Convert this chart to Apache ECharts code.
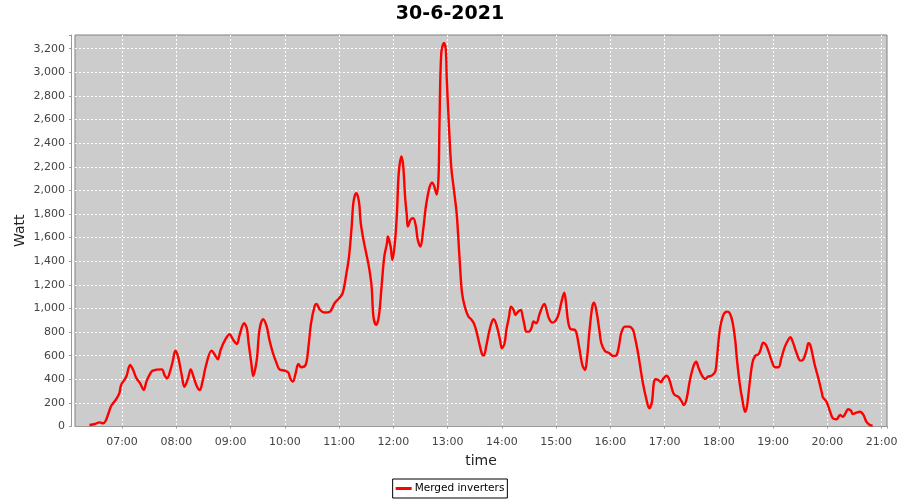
<!DOCTYPE html>
<html>
<head>
<meta charset="utf-8">
<script src="https://cdn.jsdelivr.net/npm/echarts@6/dist/echarts.min.js"></script>
<style>html,body{margin:0;padding:0;background:#fff}#c{width:900px;height:500px}</style>
</head>
<body>
<div id="c"></div>
<script>
// Sample times (HH:MM) and merged inverter power (W)
const times = ["06:24","06:30","06:35","06:39","06:42","06:45","06:48","06:53","06:57","06:59",
"07:03","07:05","07:09","07:12","07:16","07:20","07:24","07:27","07:31","07:34",
"07:44","07:47","07:50","07:53","07:56","07:59","08:02","08:06","08:09","08:13",
"08:16","08:19","08:23","08:26","08:29","08:33","08:39","08:44","08:46","08:49",
"08:54","08:59","09:03","09:07","09:10","09:15","09:18","09:20","09:23","09:25",
"09:29","09:32","09:36","09:40","09:43","09:47","09:51","09:54","10:00","10:04",
"10:06","10:09","10:12","10:15","10:18","10:23","10:26","10:29","10:33","10:35",
"10:39","10:44","10:50","10:55","11:00","11:04","11:08","11:11","11:14","11:16",
"11:19","11:22","11:24","11:27","11:30","11:33","11:36","11:38","11:41","11:44",
"11:47","11:50","11:53","11:54","11:57","11:59","12:02","12:04","12:06","12:09",
"12:11","12:13","12:15","12:16","12:19","12:22","12:25","12:27","12:30","12:33",
"12:36","12:40","12:43","12:45","12:48","12:50","12:51","12:53","12:56","12:58",
"12:59","13:01","13:04","13:07","13:10","13:12","13:14","13:16","13:19","13:23",
"13:26","13:29","13:32","13:35","13:38","13:40","13:43","13:46","13:49","13:51",
"13:54","13:58","14:00","14:03","14:05","14:08","14:10","14:13","14:15","14:18",
"14:21","14:23","14:25","14:27","14:30","14:33","14:35","14:38","14:42","14:47",
"14:49","14:52","14:56","15:00","15:03","15:06","15:09","15:11","15:13","15:16",
"15:21","15:23","15:26","15:29","15:32","15:34","15:37","15:40","15:42","15:45",
"15:48","15:50","15:54","15:59","16:03","16:07","16:10","16:12","16:16","16:21",
"16:25","16:27","16:30","16:33","16:36","16:40","16:43","16:46","16:48","16:50",
"16:53","16:56","16:58","17:02","17:05","17:09","17:11","17:15","17:19","17:21",
"17:24","17:28","17:32","17:35","17:37","17:41","17:45","17:48","17:52","17:56",
"17:58","18:01","18:05","18:09","18:12","18:15","18:18","18:20","18:23","18:26",
"18:29","18:31","18:34","18:37","18:40","18:44","18:46","18:49","18:52","18:55",
"18:58","19:02","19:06","19:09","19:13","19:17","19:19","19:22","19:26","19:30",
"19:33","19:37","19:39","19:41","19:44","19:46","19:50","19:54","19:55","19:59",
"20:03","20:06","20:10","20:14","20:17","20:19","20:23","20:26","20:28","20:32",
"20:36","20:40","20:43","20:47","20:50"];
const watts = [13,21,35,27,49,112,174,225,281,352,
400,428,521,484,408,366,309,380,445,473,
484,436,408,465,549,643,592,436,337,408,
484,422,337,309,380,521,643,590,569,648,
733,781,733,699,775,874,832,705,535,428,
564,818,908,846,733,620,535,484,473,456,
408,380,451,530,502,521,663,874,1021,1038,
987,965,973,1044,1086,1130,1290,1439,1700,1905,
1976,1905,1722,1581,1468,1354,1185,931,860,931,
1185,1439,1553,1609,1524,1411,1581,1807,2146,2287,
2202,1948,1778,1693,1750,1764,1693,1581,1524,1665,
1863,2025,2066,2040,1965,2117,2550,3163,3248,3191,
2965,2626,2202,2004,1807,1581,1326,1129,1015,931,
908,874,804,705,614,600,691,804,888,908,
860,733,663,705,818,931,1015,987,945,973,
987,931,860,804,804,840,890,874,959,1038,
1001,917,880,903,959,1058,1134,1044,903,824,
818,775,648,521,479,564,818,1015,1049,959,
804,705,640,620,597,606,705,790,846,846,
818,761,648,507,366,225,154,210,366,400,
394,375,400,430,400,295,267,253,210,182,
225,394,513,549,507,436,403,422,431,465,
592,818,945,973,959,888,733,564,366,225,
125,168,366,535,597,614,648,710,691,634,
564,502,502,578,676,739,756,710,620,558,
564,648,705,691,592,521,408,281,247,210,
125,69,61,97,83,97,146,134,106,117,
125,97,41,13,7];
const yTicks = ["0","200","400","600","800","1,000","1,200","1,400","1,600","1,800","2,000","2,200","2,400","2,600","2,800","3,000","3,200"];
const xTickLabels = ["07:00","08:00","09:00","10:00","11:00","12:00","13:00","14:00","15:00","16:00","17:00","18:00","19:00","20:00","21:00"];

function toHours(s){const p=s.split(':');return +p[0]+(+p[1])/60;}
const seriesData = times.map((t,i)=>[toHours(t),watts[i]]);

const chart = echarts.init(document.getElementById('c'), null, {renderer:'canvas'});
const FONT = 'DejaVu Sans';
chart.setOption({
  animation:false,
  backgroundColor:'#ffffff',
  title:{text:'30-6-2021',left:'center',top:5,padding:0,
    textStyle:{fontFamily:FONT,fontWeight:'bold',fontSize:19,color:'#000'}},
  grid:{left:75,right:13,top:35,bottom:73.5,outerBoundsMode:'none',containLabel:false,show:true,backgroundColor:'#cccccc',borderColor:'#808080',borderWidth:1},
  legend:{bottom:2,left:'center',data:[{name:'Merged inverters',icon:'rect'}],
    itemWidth:16,itemHeight:3,itemGap:4,borderColor:'#000',borderWidth:1,borderRadius:0,padding:[4,3,4,3],
    textStyle:{fontFamily:FONT,fontSize:10.5,color:'#000',padding:[0,0,0,-2]}},
  xAxis:{type:'value',min:6.1335,max:21.098,minInterval:1,maxInterval:1,offset:4,
    name:'time',nameLocation:'middle',nameGap:24,nameMoveOverlap:false,
    nameTextStyle:{fontFamily:FONT,fontSize:14,color:'#222'},
    axisLine:{show:true,lineStyle:{color:'#999',width:1}},
    axisTick:{show:true,length:2,lineStyle:{color:'#999'}},
    axisLabel:{margin:6,fontFamily:FONT,fontSize:11,color:'#444',
      showMinLabel:false,showMaxLabel:true,hideOverlap:false,
      formatter:function(v){const r=Math.round(v);if(Math.abs(v-r)>1e-6)return '';const i=r-7;return (i>=0&&i<xTickLabels.length)?xTickLabels[i]:'';}},
    splitLine:{show:true,showMinLine:false,showMaxLine:false,lineStyle:{color:'#ffffff',type:[2,2],width:1}}},
  yAxis:{type:'value',min:0,max:3316,interval:200,offset:4,
    name:'Watt',nameLocation:'middle',nameGap:44,nameRotate:90,nameMoveOverlap:false,
    nameTextStyle:{fontFamily:FONT,fontSize:14,color:'#222'},
    axisLine:{show:true,lineStyle:{color:'#999',width:1}},
    axisTick:{show:true,length:2,lineStyle:{color:'#999'}},
    axisLabel:{margin:6,fontFamily:FONT,fontSize:11,color:'#444',
      formatter:function(v){if(v%200!==0)return '';const i=v/200;return i<yTicks.length?yTicks[i]:'';}},
    splitLine:{show:true,showMinLine:false,showMaxLine:false,lineStyle:{color:'#ffffff',type:[2,2],width:1}}},
  series:[{name:'Merged inverters',type:'line',data:seriesData,smooth:0.35,showSymbol:false,
    lineStyle:{color:'#ff0000',width:2.4},itemStyle:{color:'#ff0000'}}]
});
</script>
</body>
</html>
